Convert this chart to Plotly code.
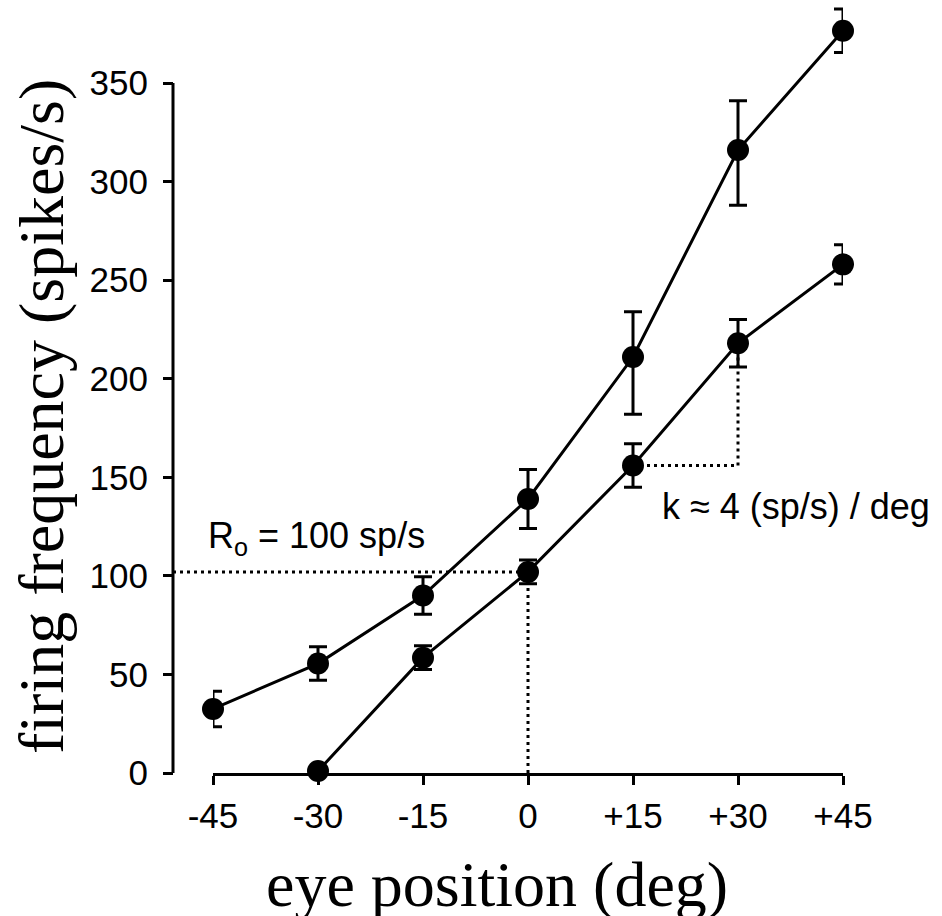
import plotly.graph_objects as go

# ---- data ----
eye_position = [-45, -30, -15, 0, 15, 30, 45]
x_tick_labels = ["-45", "-30", "-15", "0", "+15", "+30", "+45"]
y_tick_values = [0, 50, 100, 150, 200, 250, 300, 350]

upper_x = [-45, -30, -15, 0, 15, 30, 45]
upper_rate = [32.5, 55.5, 90, 139, 211, 316, 376.5]
upper_err_plus = [9, 8.5, 9.5, 15, 23, 25, 11]
upper_err_minus = [9, 8.5, 9.5, 15, 29, 28, 11]

lower_x = [-30, -15, 0, 15, 30, 45]
lower_rate = [1, 58.5, 102, 156, 218, 258]
lower_err_plus = [0, 6, 6, 11, 12, 10]
lower_err_minus = [0, 6, 6, 11, 12, 10]

r0_text = "R<sub>o</sub> = 100 sp/s"
k_text = "k \u2248 4 (sp/s) / deg"
x_title = "eye position (deg)"
y_title = "firing frequency (spikes/s)"

# ---- geometry (pixels) ----
W, H = 942, 916
X_LEFT_PX, X_RIGHT_PX = 213, 843      # -45 and +45
Y_ZERO_PX, Y_350_PX = 773, 83
YAXIS_PX = 173
px_per_unit = (Y_ZERO_PX - Y_350_PX) / 350.0
y_top = Y_ZERO_PX / px_per_unit


def px(xp):
    return xp / W


def py(yp):
    return 1 - yp / H


x_dom = [px(X_LEFT_PX), px(X_RIGHT_PX)]


def x_to_paper(v):
    return x_dom[0] + (v - eye_position[0]) / (eye_position[-1] - eye_position[0]) * (x_dom[1] - x_dom[0])


sans = "Liberation Sans, Arial, Helvetica, sans-serif"
serif = "Liberation Serif, Times New Roman, serif"

fig = go.Figure()

err_style = dict(color="black", thickness=3, width=9)

fig.add_trace(go.Scatter(
    x=upper_x, y=upper_rate, mode="lines+markers",
    line=dict(color="black", width=3),
    marker=dict(color="black", size=22),
    error_y=dict(type="data", symmetric=False, array=upper_err_plus,
                 arrayminus=upper_err_minus, **err_style),
    cliponaxis=False, hoverinfo="skip",
))
fig.add_trace(go.Scatter(
    x=lower_x, y=lower_rate, mode="lines+markers",
    line=dict(color="black", width=3),
    marker=dict(color="black", size=22),
    error_y=dict(type="data", symmetric=False, array=lower_err_plus,
                 arrayminus=lower_err_minus, **err_style),
    cliponaxis=False, hoverinfo="skip",
))

r0_level = lower_rate[lower_x.index(0)]
k_base = lower_rate[lower_x.index(15)]
k_top = lower_rate[lower_x.index(30)]
dot = dict(color="black", width=3, dash="3px,4px")

shapes = [
    # y-axis line (0 .. 350)
    dict(type="line", xref="paper", yref="y", x0=px(YAXIS_PX), x1=px(YAXIS_PX),
         y0=0, y1=350, line=dict(color="black", width=3), layer="above"),
    # R0 guide lines
    dict(type="line", xref="paper", yref="y", x0=px(YAXIS_PX), x1=x_to_paper(0),
         y0=r0_level, y1=r0_level, line=dot, layer="below"),
    dict(type="line", xref="x", yref="y", x0=0, x1=0, y0=0, y1=r0_level,
         line=dot, layer="below"),
    # slope guide lines
    dict(type="line", xref="x", yref="y", x0=15, x1=30, y0=k_base, y1=k_base,
         line=dot, layer="below"),
    dict(type="line", xref="x", yref="y", x0=30, x1=30, y0=k_base, y1=k_top,
         line=dot, layer="below"),
]

annotations = [
    dict(text=r0_text, xref="paper", yref="paper", x=px(206), y=py(538),
         xanchor="left", yanchor="middle", showarrow=False,
         font=dict(family=sans, size=36, color="black")),
    dict(text=k_text, xref="paper", yref="paper", x=px(660), y=py(506),
         xanchor="left", yanchor="middle", showarrow=False,
         font=dict(family=sans, size=36, color="black")),
    dict(text=x_title, xref="paper", yref="paper", x=px(497), y=py(884),
         xanchor="center", yanchor="middle", showarrow=False,
         font=dict(family=serif, size=64, color="black")),
    dict(text=y_title, xref="paper", yref="paper", x=px(42), y=py(417),
         xanchor="center", yanchor="middle", showarrow=False, textangle=-90,
         font=dict(family=serif, size=64, color="black")),
]

fig.update_layout(
    width=W, height=H,
    margin=dict(l=0, r=0, t=0, b=0, autoexpand=False),
    paper_bgcolor="white", plot_bgcolor="white",
    showlegend=False,
    hovermode=False,
    shapes=shapes,
    annotations=annotations,
    xaxis=dict(
        domain=x_dom, range=[eye_position[0], eye_position[-1]],
        automargin=False, fixedrange=True,
        tickvals=eye_position, ticktext=x_tick_labels,
        showline=True, linecolor="black", linewidth=3,
        ticks="outside", ticklen=9, tickwidth=3, tickcolor="black",
        tickfont=dict(family=sans, size=35, color="black"),
        ticklabelstandoff=1,
        showgrid=False, zeroline=False,
    ),
    yaxis=dict(
        domain=[py(Y_ZERO_PX), 1], range=[0, y_top],
        automargin=False, fixedrange=True,
        anchor="free", position=px(YAXIS_PX),
        tickvals=y_tick_values,
        showline=False,
        ticks="outside", ticklen=10, tickwidth=3, tickcolor="black",
        tickfont=dict(family=sans, size=35, color="black"),
        ticklabelstandoff=8,
        showgrid=False, zeroline=False,
    ),
)

fig.write_html(
    "out.html",
    config={"displayModeBar": False, "staticPlot": True},
    post_script="document.body.style.margin='0px';document.body.style.padding='0px';",
)
